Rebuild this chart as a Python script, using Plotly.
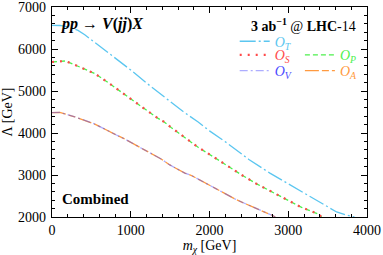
import plotly.graph_objects as go

# O_T (cyan)
mT = [0, 100, 225, 330, 416, 500, 670, 862, 1000, 1200, 1347, 1500, 1665, 1856, 2000, 2216, 2500, 2767, 3000, 3190, 3402, 3614, 3750, 3840]
LT = [6561, 6560, 6521, 6443, 6340, 6220, 5985, 5700, 5500, 5190, 4980, 4750, 4510, 4260, 4050, 3770, 3370, 3044, 2790, 2569, 2332, 2120, 2040, 2000]

# O_S / O_P (red / green)
mSP = [0, 170, 330, 543, 712, 882, 1073, 1157, 1347, 1420, 1517, 1687, 1856, 2046, 2237, 2407, 2597, 2788, 2979, 3170, 3381, 3424]
LSP = [5691, 5715, 5589, 5415, 5202, 4980, 4727, 4600, 4348, 4268, 4125, 3897, 3660, 3437, 3200, 3003, 2790, 2600, 2410, 2228, 2071, 2000]

# O_V / O_A (blue / orange)
mVA = [0, 98, 289, 543, 818, 924, 1136, 1380, 1496, 1687, 1772, 2004, 2237, 2343, 2534, 2640, 2809, 2835]
LVA = [4485, 4490, 4386, 4213, 3952, 3857, 3637, 3388, 3240, 3044, 2987, 2750, 2529, 2410, 2252, 2173, 2030, 2000]

xticks = [0, 1000, 2000, 3000, 4000]
yticks = [2000, 3000, 4000, 5000, 6000, 7000]

FONT = "Liberation Serif"
cT, cS, cP, cV, cA = "#5bc6f0", "#ff4a4a", "#4cf04c", "#4a4aff", "#ff9a40"

def lab(s, c):
    return f"<span style='color:{c}'><i>O</i><sub><i>{s}</i></sub></span>"

fig = go.Figure()
fig.add_trace(go.Scatter(x=mSP, y=LSP, mode="lines", name=lab("P", cP),
                         line=dict(color=cP, width=1.3, dash="5px,3px"), legend="legend4"))
fig.add_trace(go.Scatter(x=mSP, y=LSP, mode="lines", name=lab("S", cS),
                         line=dict(color=cS, width=2.2, dash="2px,6px"), legend="legend2"))
fig.add_trace(go.Scatter(x=mVA, y=LVA, mode="lines", name=lab("A", cA),
                         line=dict(color=cA, width=1.3, dash="14px,3px,7px,3px"), legend="legend5"))
fig.add_trace(go.Scatter(x=mVA, y=LVA, mode="lines", name=lab("V", cV), opacity=0.45,
                         line=dict(color=cV, width=1.3, dash="8px,3px,2px,3px"), legend="legend3"))
fig.add_trace(go.Scatter(x=mT, y=LT, mode="lines", name=lab("T", cT),
                         line=dict(color=cT, width=1.3, dash="16px,3px,2px,3px"), legend="legend"))

def lg(x, y):
    return dict(x=x, y=y, xanchor="left", yanchor="middle", bgcolor="rgba(0,0,0,0)",
                font=dict(family=FONT, size=14), borderwidth=0, tracegroupgap=0)

axcommon = dict(ticks="inside", ticklen=6, tickwidth=1, tickcolor="black", showline=True,
                linecolor="black", linewidth=1.2, showgrid=False, zeroline=False,
                automargin=False, ticklabeloverflow="allow",
                minor=dict(dtick=200, ticks="inside", ticklen=3, tickcolor="black", showgrid=False))

fig.update_layout(
    width=383, height=255,
    margin=dict(l=52, r=16, t=7, b=38, autoexpand=False),
    showlegend=True,
    paper_bgcolor="white", plot_bgcolor="white",
    font=dict(family=FONT, size=14, color="black"),
    legend=lg(0.58, 0.835),
    legend2=lg(0.58, 0.77),
    legend3=lg(0.58, 0.695),
    legend4=lg(0.787, 0.77),
    legend5=lg(0.787, 0.695),
    xaxis=dict(range=[0, 4000], tickvals=xticks, ticktext=[str(v) for v in xticks],
               mirror="allticks", ticklabelstandoff=0,
               title=dict(text="<i>m</i><sub><i>χ</i></sub> [GeV]", standoff=6, font=dict(size=14)),
               **axcommon),
    yaxis=dict(range=[2000, 7000], tickvals=yticks, ticktext=[str(v) for v in yticks],
               mirror="allticks", ticklabelstandoff=2,
               title=dict(text="Λ [GeV]", standoff=4, font=dict(size=14)),
               **axcommon),
    xaxis2=dict(range=[0, 4000], overlaying="x", side="top", matches="x", showticklabels=False,
                tickvals=xticks, **axcommon),
    yaxis2=dict(range=[2000, 7000], overlaying="y", side="right", matches="y", showticklabels=False,
                tickvals=yticks, **axcommon),
    annotations=[
        dict(x=0.02, y=0.92, xref="paper", yref="paper", xanchor="left", yanchor="middle",
             showarrow=False, text="<b><i>pp</i> → <i>V</i>(<i>jj</i>)<i>X</i></b>",
             font=dict(family=FONT, size=16)),
        dict(x=0.97, y=0.915, xref="paper", yref="paper", xanchor="right", yanchor="middle",
             showarrow=False, text="<b>3 ab<sup>−1</sup></b> @ <b>LHC</b>-14",
             font=dict(family=FONT, size=14)),
        dict(x=0.025, y=0.085, xref="paper", yref="paper", xanchor="left", yanchor="middle",
             showarrow=False, text="<b>Combined</b>", font=dict(family=FONT, size=15)),
    ],
)
# invisible trace to activate the mirrored top/right axes
fig.add_trace(go.Scatter(x=[None], y=[None], xaxis="x2", yaxis="y2", showlegend=False,
                         hoverinfo="skip"))

fig.write_html("out.html", config={"displayModeBar": False},
               post_script="document.body.style.margin='0';")
